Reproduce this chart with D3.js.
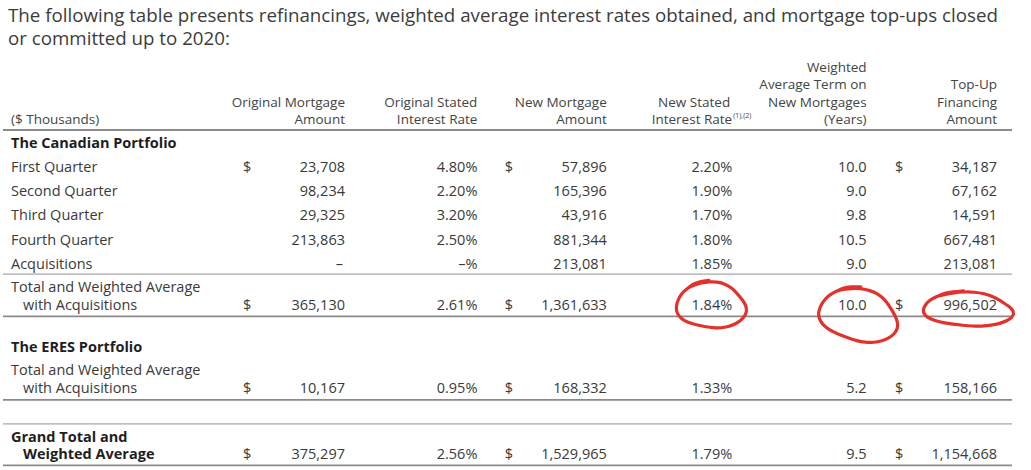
<!DOCTYPE html>
<html>
<head>
<meta charset="utf-8">
<script src="https://cdn.jsdelivr.net/npm/d3@7"></script>
<style>
  body { margin: 0; background: #fff; }
  text { font-family: 'Open Sans', sans-serif; fill: #3a3a3a; }
  .title { font-size: 19px; fill: #3c3c3c; }
  .cell { font-size: 14.5px; }
  .head { font-size: 13.5px; fill: #444; }
  .bold { font-weight: 700; fill: #1e1e1e; }
</style>
</head>
<body>
<svg id="chart" width="1031" height="470"></svg>
<script>
// Refinancings table, 2020

const titleLines = [
  'The following table presents refinancings, weighted average interest rates obtained, and mortgage top-ups closed',
  'or committed up to 2020:'
]

const unitLabel = '($ Thousands)'

const columnKeys = ['origAmount', 'origRate', 'newAmount', 'newRate', 'term', 'topUp']
const columnHeaders = [
  ['Original Mortgage', 'Amount'],
  ['Original Stated', 'Interest Rate'],
  ['New Mortgage', 'Amount'],
  ['New Stated', 'Interest Rate'],
  ['Weighted', 'Average Term on', 'New Mortgages', '(Years)'],
  ['Top-Up', 'Financing', 'Amount']
]
const headerNote = '(1),(2)'

const sections = ['The Canadian Portfolio', 'The ERES Portfolio']

const rowLabels = [
  ['First Quarter'],
  ['Second Quarter'],
  ['Third Quarter'],
  ['Fourth Quarter'],
  ['Acquisitions'],
  ['Total and Weighted Average', 'with Acquisitions'],
  ['Total and Weighted Average', 'with Acquisitions'],
  ['Grand Total and', 'Weighted Average']
]

// null = shown as a dash
const origAmount = [23708, 98234, 29325, 213863, null, 365130, 10167, 375297]
const origRate = [4.80, 2.20, 3.20, 2.50, null, 2.61, 0.95, 2.56]
const newAmount = [57896, 165396, 43916, 881344, 213081, 1361633, 168332, 1529965]
const newRate = [2.20, 1.90, 1.70, 1.80, 1.85, 1.84, 1.33, 1.79]
const term = [10.0, 9.0, 9.8, 10.5, 9.0, 10.0, 5.2, 9.5]
const topUp = [34187, 67162, 14591, 667481, 213081, 996502, 158166, 1154668]

const dollarRows = [true, false, false, false, false, true, true, true]
const dollarColumns = ['origAmount', 'newAmount', 'topUp']

// cells circled in red on the scan
const circled = [
  { row: 5, col: 'newRate' },
  { row: 5, col: 'term' },
  { row: 5, col: 'topUp' }
]

const series = { origAmount, origRate, newAmount, newRate, term, topUp }

const fmtAmount = d3.format(',')
const fmtRate = d3.format('.2f')
const fmtTerm = d3.format('.1f')

function cellText (col, v) {
  if (col === 'origAmount' || col === 'newAmount' || col === 'topUp') {
    return v == null ? '–' : fmtAmount(v)
  }
  if (col === 'term') return fmtTerm(v)
  return v == null ? '–%' : fmtRate(v) + '%'
}

const svg = d3.select('#chart')

// right edges of the value columns (small nudges to follow the scan)
const xPoint = d3.scalePoint()
  .domain(columnKeys)
  .range([345, 997])
const nudge = { origRate: 2, newAmount: 1, newRate: -4 }
const x = key => xPoint(key) + (nudge[key] || 0)

const table = { left: 3, right: 1012, labelX: 11, indent: 12, dollarOffset: 102 }

// Title, fitted to the width of the scan's paragraph
const titles = svg.selectAll('.title')
  .data(titleLines)
  .join('text')
  .attr('class', 'title')
  .attr('x', 8)
  .attr('y', (d, i) => 21.5 + i * 23.5)
  .text(d => d)

const firstLen = titles.node().getComputedTextLength()
titles.style('font-size', (19 * 990 / firstLen) + 'px')

// Headers
const headerBase = 124
const headerStep = 17.5

svg.append('text')
  .attr('class', 'head')
  .attr('x', table.labelX)
  .attr('y', headerBase)
  .text(unitLabel)

columnKeys.forEach((key, ci) => {
  const lines = columnHeaders[ci]
  lines.forEach((line, li) => {
    svg.append('text')
      .attr('class', 'head')
      .attr('x', x(key) + (key === 'newRate' && li === 0 ? -2 : 0))
      .attr('y', headerBase - (lines.length - 1 - li) * headerStep)
      .attr('text-anchor', 'end')
      .text(line)
  })
  if (key === 'newRate') {
    svg.append('text')
      .attr('class', 'head')
      .attr('x', x(key) + 1)
      .attr('y', headerBase - 6)
      .style('font-size', '7px')
      .text(headerNote)
  }
})

// Vertical layout: baselines of each row and the rules between groups
const rowStep = 24.1
const lineStep = 17.8
const rules = [{ y: 130, heavy: true }]
const sectionY = []
const rowY = []

let y = 130
y += 17.5
sectionY.push(y)
for (let i = 0; i < 5; i++) {
  y += i === 0 ? 24.7 : rowStep
  rowY.push(y)
}
rules.push({ y: y + 5.5, heavy: false })
y += 23.2 + lineStep
rowY.push(y)
rules.push({ y: y + 6.7, heavy: true })
y += 6.7 + 35.7
sectionY.push(y)
y += 23.3 + lineStep
rowY.push(y)
rules.push({ y: y + 6.7, heavy: true })
rules.push({ y: y + 30.7, heavy: false })
y += 30.7 + 17.7 + lineStep
rowY.push(y)
rules.push({ y: y + 6, heavy: true })

svg.selectAll('.rule')
  .data(rules)
  .join('line')
  .attr('class', 'rule')
  .attr('x1', table.left)
  .attr('x2', table.right)
  .attr('y1', d => d.y)
  .attr('y2', d => d.y)
  .attr('stroke', d => d.heavy ? '#8a8a8a' : '#a8a8a8')
  .attr('stroke-width', d => d.heavy ? 1.8 : 1.3)

svg.selectAll('.section')
  .data(sections)
  .join('text')
  .attr('class', 'cell bold section')
  .attr('x', table.labelX)
  .attr('y', (d, i) => sectionY[i])
  .text(d => d)

// Row labels
rowLabels.forEach((lines, ri) => {
  const bold = ri === rowLabels.length - 1
  lines.forEach((line, li) => {
    svg.append('text')
      .attr('class', bold ? 'cell bold' : 'cell')
      .attr('x', table.labelX + (li > 0 ? table.indent : 0))
      .attr('y', rowY[ri] - (lines.length - 1 - li) * lineStep)
      .text(line)
  })
})

// Values
const cells = []
rowLabels.forEach((_, ri) => {
  columnKeys.forEach(key => {
    cells.push({ row: ri, col: key, text: cellText(key, series[key][ri]) })
  })
})

svg.selectAll('.val')
  .data(cells)
  .join('text')
  .attr('class', 'cell val')
  .attr('x', d => x(d.col) - (d.col === 'origAmount' && d.text === '–' ? 2 : 0))
  .attr('y', d => rowY[d.row])
  .attr('text-anchor', 'end')
  .text(d => d.text)

const dollars = []
dollarRows.forEach((show, ri) => {
  if (show) dollarColumns.forEach(col => dollars.push({ row: ri, col }))
})

svg.selectAll('.dollar')
  .data(dollars)
  .join('text')
  .attr('class', 'cell dollar')
  .attr('x', d => x(d.col) - table.dollarOffset)
  .attr('y', d => rowY[d.row])
  .text('$')

// Hand-drawn red circles round the marked cells
const penLine = d3.line().curve(d3.curveBasis)

function loop (cx, cy, rx, ry, tilt) {
  const pts = []
  const n = 28
  for (let i = 0; i <= n + 3; i++) {
    const t = -Math.PI * 0.75 + (i / n) * Math.PI * 2
    const wobble = 1 + 0.05 * Math.sin(3 * t) + 0.02 * Math.cos(5 * t) + (i > n ? 0.06 : 0)
    const px = rx * wobble * Math.cos(t)
    const py = ry * wobble * Math.sin(t)
    pts.push([
      cx + px * Math.cos(tilt) - py * Math.sin(tilt),
      cy + px * Math.sin(tilt) + py * Math.cos(tilt)
    ])
  }
  return penLine(pts)
}

const circleShape = {
  newRate: { dx: -21, dy: -4, rx: 35, ry: 23, tilt: 0.08 },
  term: { dx: -8, dy: 6, rx: 40, ry: 26, tilt: 0.25 },
  topUp: { dx: -29, dy: 0, rx: 45, ry: 17, tilt: 0.05 }
}

svg.selectAll('.mark')
  .data(circled)
  .join('path')
  .attr('class', 'mark')
  .attr('d', d => {
    const s = circleShape[d.col]
    return loop(x(d.col) + s.dx, rowY[d.row] + s.dy, s.rx, s.ry, s.tilt)
  })
  .attr('fill', 'none')
  .attr('stroke', '#e2322b')
  .attr('stroke-width', 3.2)
  .attr('stroke-linecap', 'round')
</script>
</body>
</html>
